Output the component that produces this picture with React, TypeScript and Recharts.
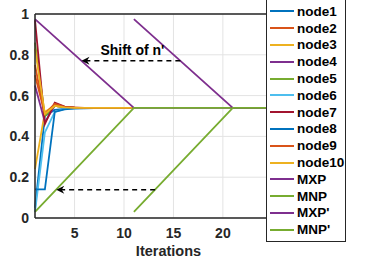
import {
  LineChart, Line, XAxis, YAxis, CartesianGrid, ReferenceLine, ReferenceDot,
} from 'recharts';

const FONT = '"Liberation Sans", Arial, sans-serif';
const INK = '#262626';

// iterations where nodes report
const nodeIters = [1, 2, 3, 4, 5, 6, 7, 8, 9, 10, 11];

const node1 = [0.05, 0.5, 0.53, 0.535, 0.537, 0.538, 0.539, 0.54, 0.54, 0.54, 0.54];
const node2 = [0.75, 0.5, 0.56, 0.545, 0.542, 0.54, 0.54, 0.54, 0.54, 0.54, 0.54];
const node3 = [0.24, 0.52, 0.55, 0.542, 0.54, 0.54, 0.54, 0.54, 0.54, 0.54, 0.54];
const node4 = [0.65, 0.47, 0.55, 0.543, 0.54, 0.54, 0.54, 0.54, 0.54, 0.54, 0.54];
const node5 = [0.86, 0.5, 0.55, 0.542, 0.54, 0.54, 0.54, 0.54, 0.54, 0.54, 0.54];
const node6 = [0.03, 0.42, 0.52, 0.535, 0.538, 0.54, 0.54, 0.54, 0.54, 0.54, 0.54];
const node7 = [0.97, 0.46, 0.565, 0.546, 0.541, 0.54, 0.54, 0.54, 0.54, 0.54, 0.54];
const node8 = [0.14, 0.14, 0.52, 0.532, 0.537, 0.539, 0.54, 0.54, 0.54, 0.54, 0.54];
const node9 = [0.7, 0.51, 0.56, 0.545, 0.541, 0.54, 0.54, 0.54, 0.54, 0.54, 0.54];
const node10 = [0.83, 0.51, 0.55, 0.542, 0.54, 0.54, 0.54, 0.54, 0.54, 0.54, 0.54];

// bound lines: x positions and values
const mxpX = [1, 11, 28];
const mxpY = [0.975, 0.54, 0.54];
const mnpX = [1, 11, 28];
const mnpY = [0.03, 0.54, 0.54];
const mxp2X = [11, 21, 28];
const mxp2Y = [0.975, 0.54, 0.54];
const mnp2X = [11, 21, 28];
const mnp2Y = [0.03, 0.54, 0.54];

const xTicks = [5, 10, 15, 20];
const yTicks = [0, 0.2, 0.4, 0.6, 0.8, 1];

// dashed "shift" arrows (from, to, level)
const shiftTop = { from: 15.7, to: 5.7, y: 0.771 };
const shiftBottom = { from: 13.15, to: 3.15, y: 0.139 };
const shiftLabel = { x: 10.85, y: 0.825, text: "Shift of n'" };

const series = [
  { key: 'node1', name: 'node1', color: '#0072BD', x: nodeIters, y: node1 },
  { key: 'node2', name: 'node2', color: '#D95319', x: nodeIters, y: node2 },
  { key: 'node3', name: 'node3', color: '#EDB120', x: nodeIters, y: node3 },
  { key: 'node4', name: 'node4', color: '#7E2F8E', x: nodeIters, y: node4 },
  { key: 'node5', name: 'node5', color: '#77AC30', x: nodeIters, y: node5 },
  { key: 'node6', name: 'node6', color: '#4DBEEE', x: nodeIters, y: node6 },
  { key: 'node7', name: 'node7', color: '#A2142F', x: nodeIters, y: node7 },
  { key: 'node8', name: 'node8', color: '#0072BD', x: nodeIters, y: node8 },
  { key: 'node9', name: 'node9', color: '#D95319', x: nodeIters, y: node9 },
  { key: 'node10', name: 'node10', color: '#EDB120', x: nodeIters, y: node10 },
  { key: 'mxp', name: 'MXP', color: '#7E2F8E', x: mxpX, y: mxpY },
  { key: 'mnp', name: 'MNP', color: '#77AC30', x: mnpX, y: mnpY },
  { key: 'mxp2', name: "MXP'", color: '#7E2F8E', x: mxp2X, y: mxp2Y },
  { key: 'mnp2', name: "MNP'", color: '#77AC30', x: mnp2X, y: mnp2Y },
];

const allX = Array.from(new Set(series.flatMap((s) => s.x))).sort((a, b) => a - b);
const data = allX.map((x) => {
  const row: Record<string, number | null> = { x };
  series.forEach((s) => {
    const i = s.x.indexOf(x);
    row[s.key] = i >= 0 ? s.y[i] : null;
  });
  return row;
});

const arrowHead = (props: any) => {
  const { cx, cy } = props;
  return (
    <path
      d={`M${cx},${cy} L${cx + 8},${cy - 4} L${cx + 5.5},${cy} L${cx + 8},${cy + 4} Z`}
      fill="#000"
    />
  );
};

const labelShape = (props: any) => (
  <text
    x={props.cx}
    y={props.cy}
    textAnchor="middle"
    dominantBaseline="central"
    fontFamily={FONT}
    fontWeight="bold"
    fontSize={14}
    fill="#000"
  >
    {shiftLabel.text}
  </text>
);

function LegendBox() {
  return (
    <div
      style={{
        position: 'absolute', left: 266, top: -1, width: 78, height: 238,
        border: `1.5px solid ${INK}`, background: '#fff', paddingTop: 3,
        fontFamily: FONT, fontWeight: 'bold', fontSize: 13.5, color: '#000',
      }}
    >
      {series.map((s) => (
        <div key={s.key} style={{ display: 'flex', alignItems: 'center', height: 16.8 }}>
          <div style={{ width: 24, height: 2, background: s.color, marginLeft: 3, marginRight: 3 }} />
          <span>{s.name}</span>
        </div>
      ))}
    </div>
  );
}

export default function App() {
  return (
    <div style={{ position: 'absolute', left: 0, top: 0, width: 369, height: 261, background: '#fff' }}>
      <LineChart width={369} height={261} data={data} margin={{ top: 14, right: 67, bottom: 0, left: 0 }}>
        <CartesianGrid stroke="#e3e3e3" />
        <XAxis
          dataKey="x" type="number" domain={[1, 28]} ticks={xTicks}
          height={43} tickLine={false} tickMargin={4}
          axisLine={{ stroke: INK, strokeWidth: 1.5 }}
          tick={{ fill: INK, fontSize: 14, fontWeight: 'bold', fontFamily: FONT }}
          label={{ value: 'Iterations', position: 'insideBottom', offset: 5, fill: INK, fontSize: 14.5, fontWeight: 'bold', fontFamily: FONT }}
        />
        <YAxis
          type="number" domain={[0, 1]} ticks={yTicks} width={35}
          tickLine={false} tickSize={4} tickMargin={2}
          axisLine={{ stroke: INK, strokeWidth: 1.5 }}
          tick={{ fill: INK, fontSize: 14, fontWeight: 'bold', fontFamily: FONT }}
        />
        <ReferenceLine y={1} stroke={INK} strokeWidth={1.5} />
        <ReferenceLine x={28} stroke={INK} strokeWidth={1.5} />
        {series.map((s) => (
          <Line
            key={s.key} dataKey={s.key} name={s.name} stroke={s.color} strokeWidth={1.8}
            dot={false} connectNulls isAnimationActive={false}
          />
        ))}
        {[shiftTop, shiftBottom].map((a, i) => (
          <ReferenceLine
            key={`seg${i}`}
            segment={[{ x: a.from, y: a.y }, { x: a.to, y: a.y }]}
            stroke="#000" strokeWidth={1.5} strokeDasharray="5 4"
          />
        ))}
        {[shiftTop, shiftBottom].map((a, i) => (
          <ReferenceDot key={`head${i}`} x={a.to} y={a.y} shape={arrowHead} />
        ))}
        <ReferenceDot x={shiftLabel.x} y={shiftLabel.y} shape={labelShape} />
      </LineChart>
      <LegendBox />
    </div>
  );
}
